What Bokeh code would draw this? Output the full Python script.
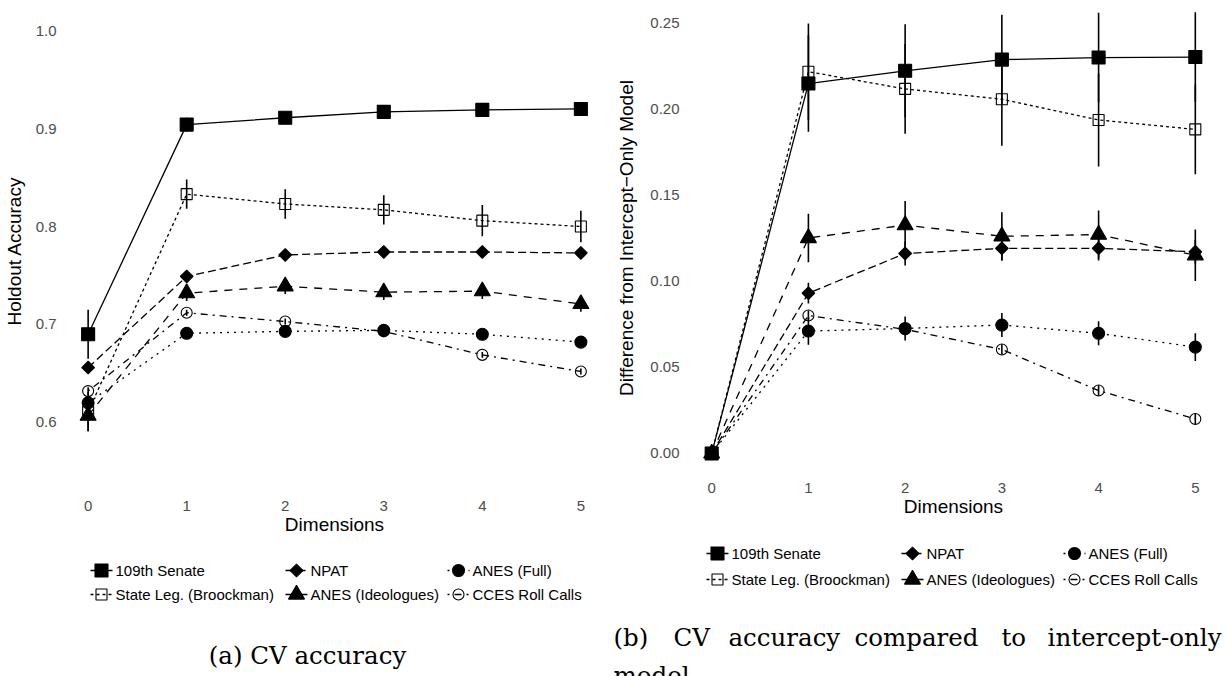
import math
from bokeh.plotting import figure
from bokeh.layouts import row, column
from bokeh.models import FixedTicker, PrintfTickFormatter, Range1d
from bokeh.core.properties import value
from bokeh.embed import file_html
from bokeh.resources import INLINE

# ---------------- data ----------------
dims = [0, 1, 2, 3, 4, 5]
series_names = ["109th Senate", "State Leg. (Broockman)", "NPAT",
                "ANES (Ideologues)", "ANES (Full)", "CCES Roll Calls"]

# (a) holdout accuracy
acc_senate = [0.690, 0.904, 0.911, 0.917, 0.919, 0.920]
acc_senate_err = [0.025, 0.007, 0.006, 0.005, 0.005, 0.005]
acc_stateleg = [0.611, 0.833, 0.823, 0.817, 0.806, 0.800]
acc_stateleg_err = [0.020, 0.015, 0.015, 0.015, 0.016, 0.016]
acc_npat = [0.656, 0.749, 0.771, 0.774, 0.774, 0.773]
acc_npat_err = [0.004, 0.003, 0.003, 0.003, 0.003, 0.003]
acc_ideol = [0.607, 0.732, 0.739, 0.733, 0.734, 0.721]
acc_ideol_err = [0.016, 0.008, 0.008, 0.008, 0.008, 0.008]
acc_full = [0.620, 0.691, 0.693, 0.694, 0.690, 0.682]
acc_full_err = [0.004, 0.003, 0.003, 0.003, 0.003, 0.003]
acc_cces = [0.632, 0.712, 0.703, 0.693, 0.669, 0.652]
acc_cces_err = [0.004, 0.003, 0.003, 0.003, 0.003, 0.003]

# (b) difference from intercept-only model
diff_senate = [0.0, 0.2146, 0.222, 0.2285, 0.2297, 0.2300]
diff_senate_err = [0.0, 0.028, 0.027, 0.026, 0.026, 0.026]
diff_stateleg = [0.0, 0.2215, 0.2115, 0.2055, 0.1935, 0.188]
diff_stateleg_err = [0.0, 0.028, 0.026, 0.027, 0.027, 0.026]
diff_npat = [0.0, 0.093, 0.116, 0.119, 0.119, 0.117]
diff_npat_err = [0.0, 0.006, 0.007, 0.007, 0.007, 0.007]
diff_ideol = [0.0, 0.125, 0.1325, 0.126, 0.127, 0.115]
diff_ideol_err = [0.0, 0.014, 0.014, 0.014, 0.014, 0.015]
diff_full = [0.0, 0.071, 0.0725, 0.0745, 0.0697, 0.0617]
diff_full_err = [0.0, 0.008, 0.007, 0.007, 0.007, 0.008]
diff_cces = [0.0, 0.080, 0.072, 0.0603, 0.0365, 0.020]
diff_cces_err = [0.0, 0.003, 0.003, 0.003, 0.003, 0.003]

acc_ticks = [0.6, 0.7, 0.8, 0.9, 1.0]
diff_ticks = [0.0, 0.05, 0.10, 0.15, 0.20, 0.25]

caption_a = "(a) CV accuracy"
caption_b_words = ["(b)", "CV", "accuracy", "compared", "to", "intercept-only"]
caption_b_line2 = "model"

# ---------------- styles ----------------
styles = [
    dict(marker="square", size=13, fill="black", angle=0.0, dash="solid"),
    dict(marker="square", size=11, fill=None, angle=0.0, dash="3 3"),
    dict(marker="square", size=9, fill="black", angle=math.pi / 4, dash="8 4"),
    dict(marker="triangle", size=16, fill="black", angle=0.0, dash="8 7"),
    dict(marker="circle", size=12, fill="black", angle=0.0, dash="2 5"),
    dict(marker="circle", size=11, fill=None, angle=0.0, dash="2 5 7 5"),
]

FONT = "Liberation Sans"
CAP_FONT = "DejaVu Serif"
CAP_SIZE = "24.5px"
legend_order = [0, 2, 4, 1, 3, 5]   # row-major: 3 columns x 2 rows
KEY_W = 22


def no_align(f):
    if "frame_align" in f.properties():
        f.frame_align = False


def make_panel(values, errors, ticks, fmt, yrange, ylabel, fw, fh, borders):
    left, right, top, bottom = borders
    p = figure(frame_width=fw, frame_height=fh, output_backend="svg",
               toolbar_location=None, title=None,
               x_range=Range1d(-0.25, 5.25), y_range=Range1d(*yrange),
               min_border_left=left, min_border_right=right,
               min_border_top=top, min_border_bottom=bottom)
    no_align(p)
    p.outline_line_color = None
    p.grid.visible = False
    p.background_fill_color = "white"
    p.border_fill_color = "white"

    order = [5, 4, 3, 2, 1, 0]
    for i in order:
        p.line(dims, values[i], line_color="black", line_width=1.3,
               line_dash=styles[i]["dash"])
    for i in order:
        lo = [v - e for v, e in zip(values[i], errors[i])]
        hi = [v + e for v, e in zip(values[i], errors[i])]
        p.segment(x0=dims, y0=lo, x1=dims, y1=hi, line_color="black",
                  line_width=1.6)
    for i in order:
        st = styles[i]
        p.scatter(dims, values[i], marker=st["marker"], size=st["size"],
                  angle=st["angle"], fill_color=st["fill"],
                  line_color="black", line_width=1.1)

    p.xaxis.ticker = FixedTicker(ticks=dims)
    p.yaxis.ticker = FixedTicker(ticks=ticks)
    p.yaxis.formatter = PrintfTickFormatter(format=fmt)
    for ax in (p.xaxis, p.yaxis):
        ax.axis_line_color = None
        ax.major_tick_line_color = None
        ax.minor_tick_line_color = None
        ax.major_tick_out = 0
        ax.major_tick_in = 0
        ax.major_label_text_font = FONT
        ax.major_label_text_font_size = "15px"
        ax.major_label_text_color = "#4D4D4D"
        ax.axis_label_text_font = FONT
        ax.axis_label_text_font_size = "19px"
        ax.axis_label_text_font_style = "normal"
        ax.axis_label_text_color = "black"
    p.xaxis.axis_label = "Dimensions"
    p.xaxis.major_label_standoff = 7
    p.xaxis.axis_label_standoff = 0
    p.yaxis.axis_label = ylabel
    return p


def legend_panel(xr, yr, key_lefts, rows):
    """Legend + caption strip; ranges are in page pixels (y downwards)."""
    f = figure(width=int(xr[1] - xr[0]), height=int(yr[0] - yr[1]),
               x_range=Range1d(*xr), y_range=Range1d(*yr),
               x_axis_type=None, y_axis_type=None, min_border=0,
               toolbar_location=None, output_backend="svg")
    no_align(f)
    f.outline_line_color = None
    f.grid.visible = False
    f.background_fill_color = "white"
    f.border_fill_color = "white"
    tx, ty, tt = [], [], []
    for slot, i in enumerate(legend_order):
        r, c = divmod(slot, 3)
        kx, ky = key_lefts[c], rows[r]
        st = styles[i]
        f.line([kx, kx + KEY_W], [ky, ky], line_color="black", line_width=1.3,
               line_dash=st["dash"])
        f.scatter([kx + KEY_W / 2], [ky], marker=st["marker"], size=st["size"],
                  angle=st["angle"], fill_color=st["fill"], line_color="black",
                  line_width=1.1)
        tx.append(kx + KEY_W + 3)
        ty.append(ky)
        tt.append(series_names[i])
    f.text(x=tx, y=ty, text=tt, text_font=value(FONT),
           text_font_size=value("15px"), text_color="black",
           text_baseline="middle", text_align="left")
    return f


acc_values = [acc_senate, acc_stateleg, acc_npat, acc_ideol, acc_full, acc_cces]
acc_errors = [acc_senate_err, acc_stateleg_err, acc_npat_err, acc_ideol_err,
              acc_full_err, acc_cces_err]
diff_values = [diff_senate, diff_stateleg, diff_npat, diff_ideol, diff_full, diff_cces]
diff_errors = [diff_senate_err, diff_stateleg_err, diff_npat_err, diff_ideol_err,
               diff_full_err, diff_cces_err]

# panel (a): frame 542x485 at (62, 8); total height 8+485+50 = 543
pa = make_panel(acc_values, acc_errors, acc_ticks, "%.1f", (0.5275, 1.0225),
                "Holdout Accuracy", 542, 485, (62, 8, 8, 50))
pa.yaxis.major_label_standoff = 7
pa.yaxis.axis_label_standoff = 8

# panel (b): frame 532x475 at (71, 0); total height 0+475+50 = 525
pb = make_panel(diff_values, diff_errors, diff_ticks, "%.2f", (-0.0128, 0.2628),
                "Difference from Intercept\u2212Only Model", 532, 475, (71, 10, 0, 50))
pb.yaxis.major_label_standoff = 8
pb.yaxis.axis_label_standoff = 10

la = legend_panel((0, 612), (676, 543), [90, 285, 447], [570, 594])
la.text(x=[307], y=[655], text=[caption_a], text_font=value(CAP_FONT),
        text_font_size=value(CAP_SIZE), text_color="black",
        text_baseline="middle", text_align="center")

lb = legend_panel((612, 1225), (676, 525), [705, 900, 1062], [553, 579])
word_x = [612, 672, 727, 853, 1000, 1220]
lb.text(x=word_x[:-1], y=[637] * 5, text=caption_b_words[:-1],
        text_font=value(CAP_FONT), text_font_size=value(CAP_SIZE),
        text_color="black", text_baseline="middle", text_align="left")
lb.text(x=word_x[-1:], y=[637], text=caption_b_words[-1:],
        text_font=value(CAP_FONT), text_font_size=value(CAP_SIZE),
        text_color="black", text_baseline="middle", text_align="right")
lb.text(x=[612], y=[675], text=[caption_b_line2], text_font=value(CAP_FONT),
        text_font_size=value(CAP_SIZE), text_color="black",
        text_baseline="middle", text_align="left")

layout = row(column(pa, la), column(pb, lb))
open("out.html", "w").write(file_html(layout, INLINE))
